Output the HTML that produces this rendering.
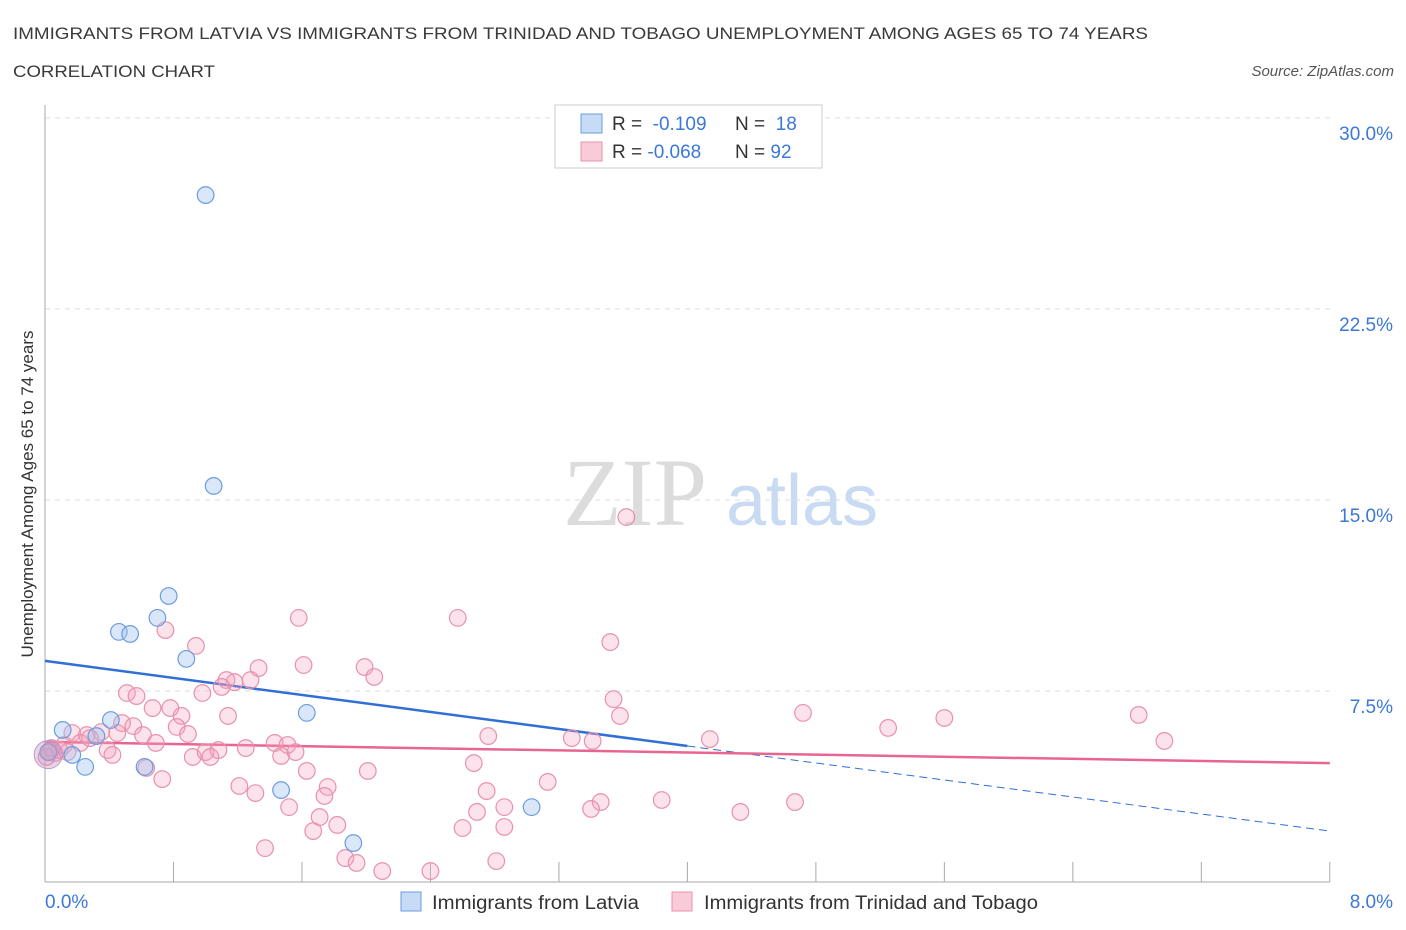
<!DOCTYPE html>
<html><head><meta charset="utf-8"><style>
body{margin:0;background:#fff;font-family:"Liberation Sans",sans-serif;}
svg{display:block}
</style></head><body>
<svg id="chart" width="1406" height="930" xmlns="http://www.w3.org/2000/svg">
<text x="13" y="39" font-size="17" fill="#3a3a3a" textLength="1135" lengthAdjust="spacingAndGlyphs">IMMIGRANTS FROM LATVIA VS IMMIGRANTS FROM TRINIDAD AND TOBAGO UNEMPLOYMENT AMONG AGES 65 TO 74 YEARS</text>
<text x="13" y="77" font-size="17" fill="#3a3a3a" textLength="202" lengthAdjust="spacingAndGlyphs">CORRELATION CHART</text>
<text x="1394" y="76" font-size="15" fill="#555" font-style="italic" text-anchor="end">Source: ZipAtlas.com</text>
<text x="635" y="525" font-size="96" fill="#dcdcdc" font-family="Liberation Serif,serif" text-anchor="middle">ZIP</text>
<text x="802" y="525" font-size="72" fill="#c9dbf2" text-anchor="middle">atlas</text>
<text transform="translate(33,494) rotate(-90)" font-size="17" fill="#333" text-anchor="middle">Unemployment Among Ages 65 to 74 years</text>
<g id="grid"></g><g id="axes"></g><g id="trend"></g><g id="pts"></g>
<g>
<rect x="555" y="105" width="267" height="63" fill="#fff" stroke="#ccc"/>
<rect x="581" y="114" width="21" height="19" fill="#c5dbf6" stroke="#6b9de0"/>
<text x="612" y="130" font-size="19" fill="#333">R = <tspan fill="#3b78d8">&#160;-0.109</tspan><tspan x="735">N = </tspan><tspan fill="#3b78d8">&#160;18</tspan></text>
<rect x="581" y="142" width="21" height="19" fill="#f9cad8" stroke="#e891ab"/>
<text x="612" y="158" font-size="19" fill="#333">R = <tspan fill="#3b78d8">-0.068</tspan><tspan x="735">N = </tspan><tspan fill="#3b78d8">92</tspan></text>
</g>
<g>
<rect x="401" y="892" width="20" height="19" fill="#c5dbf6" stroke="#6b9de0"/>
<text x="432" y="909" font-size="19" fill="#333" textLength="207" lengthAdjust="spacingAndGlyphs">Immigrants from Latvia</text>
<rect x="672" y="892" width="20" height="19" fill="#f9cad8" stroke="#e891ab"/>
<text x="704" y="909" font-size="19" fill="#333" textLength="334" lengthAdjust="spacingAndGlyphs">Immigrants from Trinidad and Tobago</text>
</g>
</svg>
<script>
const yTicks=[7.5,15,22.5,30];
const yTickLabels=["7.5%","15.0%","22.5%","30.0%"];
const xTickVals=[0,0.8,1.6,2.4,3.2,4.0,4.8,5.6,6.4,7.2,8.0];
const latviaX=[1.00,1.05,0.77,0.70,0.46,0.53,0.88,1.63,0.41,0.11,0.32,0.17,0.25,0.62,1.47,3.03,1.92,0.02];
const latviaY=[26.97,15.55,11.23,10.37,9.82,9.74,8.76,6.64,6.36,5.97,5.73,4.99,4.52,4.52,3.61,2.94,1.53,5.10];
const trinX=[1.58,0.75,0.94,1.33,1.61,1.99,2.05,1.13,1.18,1.28,1.10,0.51,0.57,0.98,0.67,0.78,0.85,1.14,0.48,0.55,0.82,0.89,0.17,0.26,0.35,0.45,0.61,0.69,0.22,0.09,0.06,0.39,0.42,0.92,1.00,1.03,1.08,1.25,1.43,1.51,1.47,1.56,1.63,2.01,0.63,0.73,1.21,1.31,1.76,1.74,1.52,1.71,1.82,1.67,1.37,1.87,1.94,2.10,2.57,3.52,3.54,3.58,2.76,3.28,3.41,2.67,3.13,2.75,2.86,3.46,3.40,2.69,2.60,2.86,3.84,2.81,2.40,3.62,4.14,4.72,5.25,5.60,6.81,6.97,4.33,4.67,0.03,0.01,0.04,0.12,0.28,0.14];
const trinY=[10.37,9.89,9.27,8.40,8.52,8.44,8.05,7.93,7.85,7.93,7.66,7.42,7.30,7.42,6.83,6.83,6.52,6.52,6.24,6.12,6.09,5.81,5.85,5.77,5.89,5.85,5.77,5.46,5.46,5.18,5.06,5.18,4.99,4.91,5.10,4.91,5.18,5.26,5.46,5.38,4.95,5.10,4.36,4.36,4.48,4.04,3.77,3.49,3.73,3.38,2.94,2.55,2.24,2.00,1.33,0.94,0.75,0.43,10.37,9.42,7.18,6.52,5.73,5.65,5.54,4.67,3.93,3.57,2.94,3.14,2.87,2.75,2.12,2.16,3.22,0.82,0.43,14.33,5.61,6.64,6.05,6.44,6.56,5.54,2.75,3.14,5.10,4.91,5.26,5.38,5.65,5.10];
const latviaTrend=[8.68,-0.835,4.0];
const trinTrend=[5.50,-0.104];
const NS="http://www.w3.org/2000/svg";
const X=v=>45+v*160.6, Y=v=>882-v*25.47;
function mk(t,a,p){const e=document.createElementNS(NS,t);for(const k in a)e.setAttribute(k,a[k]);p.appendChild(e);return e;}
const grid=document.getElementById('grid'),axes=document.getElementById('axes'),trend=document.getElementById('trend'),pts=document.getElementById('pts');
yTicks.forEach((v,i)=>{
 const l=mk('line',{x1:45,x2:1330,y1:Y(v),y2:Y(v),stroke:'#ddd','stroke-dasharray':'5,5'},grid);
 
 
 const t=mk('text',{x:1393,y:Y(v)+22,'font-size':19,fill:'#3b78d8','text-anchor':'end'},axes);
 t.textContent=yTickLabels[i];
 
 
});
const ya=mk('line',{x1:45,x2:45,y1:105,y2:882,stroke:'#aaa'},axes);


const xa=mk('line',{x1:45,x2:1330,y1:882,y2:882,stroke:'#aaa'},axes);


xTickVals.forEach(v=>{
 const t=mk('line',{x1:X(v),x2:X(v),y1:862,y2:882,stroke:'#aaa'},axes);
 
 
});
const xl0=mk('text',{x:45,y:908,'font-size':19,fill:'#3b78d8'},axes);xl0.textContent='0.0%';


const xl1=mk('text',{x:1393,y:908,'font-size':19,fill:'#3b78d8','text-anchor':'end'},axes);xl1.textContent='8.0%';


trinX.forEach((x,i)=>{
 const c=mk('circle',{cx:X(x),cy:Y(trinY[i]),r:8.3,fill:'rgba(244,160,188,0.3)',stroke:'#e891ab','stroke-width':1.2},pts);
 
 
});
latviaX.forEach((x,i)=>{
 const c=mk('circle',{cx:X(x),cy:Y(latviaY[i]),r:8.3,fill:'rgba(160,195,240,0.4)',stroke:'#6b9de0','stroke-width':1.2},pts);
 
 
});
const big=mk('circle',{cx:X(0.02),cy:Y(5.0),r:14,fill:'rgba(200,150,190,0.4)',stroke:'#b89ad0'},pts);


const [bi,bs,be]=latviaTrend;
const l1=mk('line',{x1:X(0),y1:Y(bi),x2:X(be),y2:Y(bi+bs*be),stroke:'#2f6fd6','stroke-width':2.5},trend);


const l2=mk('line',{x1:X(be),y1:Y(bi+bs*be),x2:X(8),y2:Y(bi+bs*8),stroke:'#2f6fd6','stroke-width':1,'stroke-dasharray':'8,5'},trend);


const l3=mk('line',{x1:X(0),y1:Y(trinTrend[0]),x2:X(8),y2:Y(trinTrend[0]+trinTrend[1]*8),stroke:'#e8658f','stroke-width':2.5},trend);


</script>
</body></html>
